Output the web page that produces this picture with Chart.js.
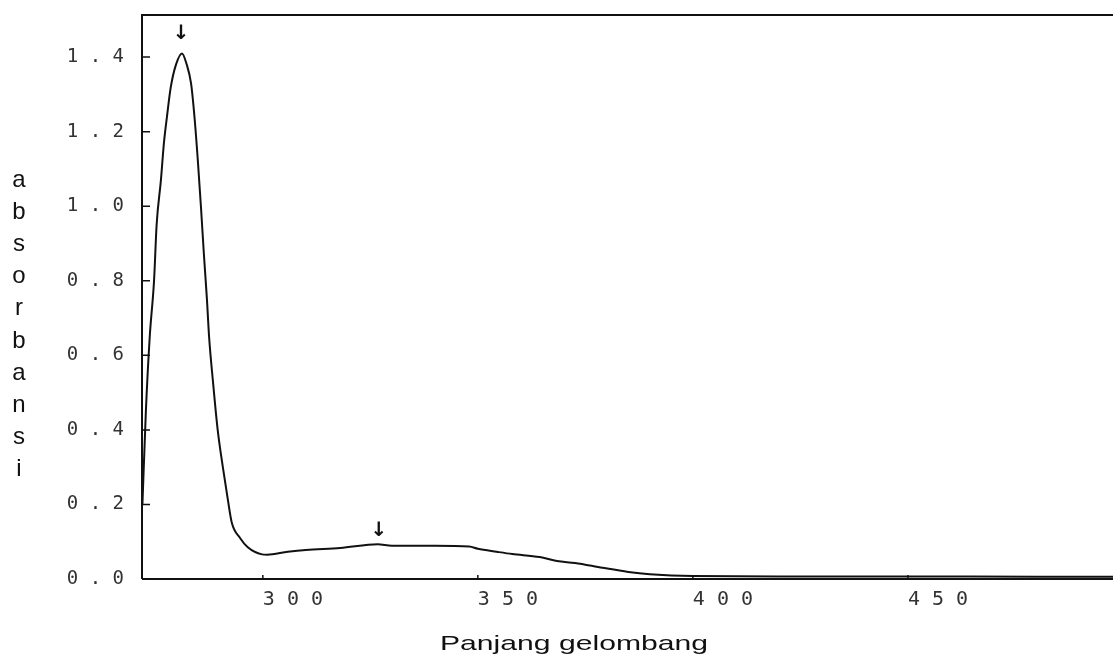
<!DOCTYPE html>
<html>
<head>
<meta charset="utf-8">
<script src="https://cdn.jsdelivr.net/npm/chart.js@4"></script>
<style>
  html, body { margin: 0; padding: 0; background: #fff; }
  #wrap { width: 1113px; height: 658px; position: relative; }
</style>
</head>
<body>
<div id="wrap"><canvas id="spectrum"></canvas></div>
<script>
// values
const wavelength = [272, 272.8, 273.7, 274.7, 275.3, 276.3, 277, 277.7, 278.6, 279.8,
  281.2, 282.3, 283.3, 284.1, 284.9, 285.6, 286.3, 287, 287.5, 288.4,
  289.5, 290.7, 291.9, 292.8, 294.7, 296.5, 299.8, 301, 305.8, 310,
  318, 326.7, 330, 340, 348, 350, 354.4, 358, 364.4, 368.4,
  372.6, 379, 385, 390, 400, 420, 450, 480, 498];
const absorbance = [0.2, 0.45, 0.65, 0.80, 0.95, 1.07, 1.17, 1.24, 1.32, 1.38,
  1.41, 1.38, 1.33, 1.24, 1.12, 1.0, 0.87, 0.75, 0.65, 0.53,
  0.40, 0.30, 0.21, 0.15, 0.11, 0.085, 0.066, 0.065, 0.073, 0.078,
  0.083, 0.093, 0.089, 0.089, 0.087, 0.081, 0.073, 0.067, 0.059, 0.048,
  0.043, 0.03, 0.019, 0.013, 0.008, 0.007, 0.007, 0.006, 0.006];
const xTicks = [300, 350, 400, 450];
const yTicks = [0, 0.2, 0.4, 0.6, 0.8, 1.0, 1.2, 1.4];
const peakMarks = [281, 327];   // arrows above the peaks
const xTitle = 'Panjang gelombang';
const yTitle = 'absorbansi';

const points = wavelength.map((w, i) => ({ x: w, y: absorbance[i] }));
const spaced = s => s.split('').join(' ');

// frame, inner ticks, arrows and the two axis titles
const decorations = {
  id: 'decorations',
  afterDraw(chart) {
    const { ctx, chartArea: a, scales: { x, y } } = chart;
    ctx.save();
    ctx.strokeStyle = '#111';
    ctx.lineWidth = 2;
    ctx.beginPath();
    ctx.moveTo(a.left, a.bottom);
    ctx.lineTo(a.left, a.top);
    ctx.lineTo(a.right, a.top);
    ctx.moveTo(a.left, a.bottom);
    ctx.lineTo(a.right, a.bottom);
    ctx.stroke();

    ctx.lineWidth = 1.5;
    ctx.beginPath();
    yTicks.forEach(v => {
      const py = y.getPixelForValue(v);
      ctx.moveTo(a.left, py);
      ctx.lineTo(a.left + 8, py);
    });
    xTicks.forEach(v => {
      const px = x.getPixelForValue(v);
      ctx.moveTo(px, a.bottom);
      ctx.lineTo(px, a.bottom - 4);
    });
    ctx.stroke();

    // arrows
    ctx.fillStyle = '#111';
    ctx.font = 'bold 20px "DejaVu Sans"';
    ctx.textAlign = 'center';
    ctx.textBaseline = 'bottom';
    peakMarks.forEach((w, i) => {
      const px = x.getPixelForValue(w);
      const py = y.getPixelForValue(i === 0 ? 1.41 : 0.093);
      ctx.fillText('\u2193', px, py - (i === 0 ? 10 : 4));
    });

    // x title, stretched wide like the scan
    ctx.font = '21px "Liberation Sans"';
    ctx.textBaseline = 'alphabetic';
    ctx.textAlign = 'left';
    const w = ctx.measureText(xTitle).width;
    ctx.save();
    ctx.translate(440, 650);
    ctx.scale(268 / w, 1);
    ctx.fillText(xTitle, 0, 0);
    ctx.restore();

    // y title, one letter per line
    ctx.font = '24px "Liberation Sans"';
    ctx.textAlign = 'center';
    ctx.textBaseline = 'middle';
    yTitle.split('').forEach((c, i) => {
      ctx.fillText(c, 19, 180 + i * 32.2);
    });
    ctx.restore();
  }
};

new Chart(document.getElementById('spectrum'), {
  type: 'line',
  data: {
    datasets: [{
      data: points,
      borderColor: '#111',
      borderWidth: 2,
      pointRadius: 0,
      cubicInterpolationMode: 'monotone',
      fill: false
    }]
  },
  options: {
    responsive: true,
    maintainAspectRatio: false,
    animation: false,
    layout: { padding: { top: 15, right: 0, left: 0, bottom: 0 } },
    plugins: { legend: { display: false }, tooltip: { enabled: false } },
    scales: {
      x: {
        type: 'linear',
        min: 271.9,
        max: 497.7,
        afterBuildTicks: s => { s.ticks = xTicks.map(v => ({ value: v })); },
        afterFit: s => { s.height = 79; s.paddingLeft = 0; s.paddingRight = 0; },
        grid: { display: false },
        border: { display: false },
        ticks: {
          align: 'start',
          padding: 1,
          color: '#333',
          font: { family: 'DejaVu Sans Mono', size: 20 },
          callback: v => spaced(String(v))
        }
      },
      y: {
        min: 0,
        max: 1.513,
        afterBuildTicks: s => { s.ticks = yTicks.map(v => ({ value: v })); },
        afterFit: s => { s.width = 142; s.paddingTop = 0; s.paddingBottom = 0; },
        grid: { display: false },
        border: { display: false },
        ticks: {
          padding: 10,
          color: '#333',
          font: { family: 'DejaVu Sans Mono', size: 19 },
          callback: v => spaced(v.toFixed(1))
        }
      }
    }
  },
  plugins: [decorations]
});
</script>
</body>
</html>
